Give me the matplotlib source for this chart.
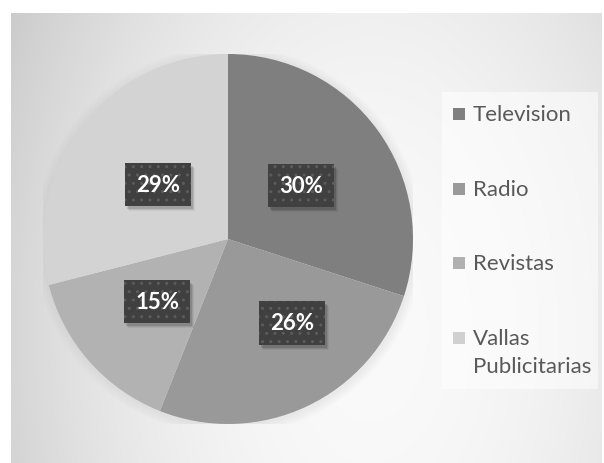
import numpy as np
import matplotlib.pyplot as plt
from matplotlib.patches import Rectangle
from matplotlib.transforms import IdentityTransform

categories = ['Television', 'Radio', 'Revistas', 'Vallas\nPublicitarias']
values = [30, 26, 15, 29]
colors = ['#7f7f7f', '#999999', '#b2b2b2', '#d3d3d3']
legend_colors = ['#7f7f7f', '#999999', '#b0b0b0', '#d0d0d0']

W, H = 604, 464
fig = plt.figure(figsize=(W / 100, H / 100), dpi=100)
fig.patch.set_facecolor('white')

# gradient background panel
x0, y0, x1, y1 = 11, 14, 602, 464
bg = fig.add_axes([x0 / W, 0, (x1 - x0) / W, (y1 - y0) / H])
bg.set_axis_off()
yy, xx = np.mgrid[y0:y1, x0:x1]
dx = xx - 370
dy = yy - 330
v = 0.98 - 1.1e-6 * dx ** 2 - 4.1e-7 * dy ** 2
v = np.clip(v, 0.74, 0.98)
bg.imshow(np.dstack([v, v, v]), aspect='auto', extent=[0, 1, 0, 1])
bg.set_xlim(0, 1)
bg.set_ylim(0, 1)

# legend panel
fig.patches.append(Rectangle((442 / W, 1 - 390 / H), (598 - 442) / W, (390 - 93) / H,
                             transform=fig.transFigure, facecolor='white',
                             edgecolor='none', alpha=0.55, zorder=1))

# pie
cx, cy, r = 228, 240, 185
ax = fig.add_axes([(cx - r) / W, 1 - (cy + r) / H, 2 * r / W, 2 * r / H])
ax.set_axis_off()

# soft shadow
for k in range(5):
    ax.add_patch(plt.Circle((0.004, -0.008), 1 + 0.01 * (k + 1), color='#909090',
                            alpha=0.025, lw=0, zorder=0))

wedges, _ = ax.pie(values, colors=colors, startangle=90, counterclock=False,
                   radius=1, wedgeprops=dict(linewidth=0))
ax.set_xlim(-1, 1)
ax.set_ylim(-1, 1)

nudge = [0, 12, 0, 0]
rad = [0.49, 0.57, 0.51, 0.48]
labels = []
for w, val, n, rr in zip(wedges, values, nudge, rad):
    ang = np.deg2rad((w.theta1 + w.theta2) / 2 + n)
    px, py = rr * np.cos(ang), rr * np.sin(ang)
    t = ax.text(px, py, f'{val}%', ha='center', va='center', fontsize=16,
                fontweight='bold', family='Lato', color='white', zorder=5,
                bbox=dict(boxstyle='square,pad=0.5', facecolor='#404040',
                          edgecolor='#5c5c5c', linewidth=0, hatch='..'))
    labels.append(t)

# label box shadows
fig.canvas.draw()
for t in labels:
    bb = t.get_bbox_patch().get_window_extent()
    for k, a in enumerate([0.12, 0.08, 0.05]):
        ax.add_patch(Rectangle((bb.x0 + 2 + k, bb.y0 - 3 - k), bb.width, bb.height,
                               transform=IdentityTransform(), facecolor='black',
                               edgecolor='none', alpha=a, zorder=4))

# legend
row_y = [115, 190, 264, 339]
for lab, col, ry in zip(categories, legend_colors, row_y):
    fig.patches.append(Rectangle((453 / W, 1 - (ry + 6) / H), 12 / W, 12 / H,
                                 transform=fig.transFigure, facecolor=col,
                                 edgecolor='none', zorder=2))
    for i, line in enumerate(lab.split('\n')):
        fig.text(473 / W, 1 - (ry + 28 * i) / H, line, ha='left', va='center',
                 fontsize=16, family='Lato', color='#595959')

fig.savefig('out.png', dpi=100)
